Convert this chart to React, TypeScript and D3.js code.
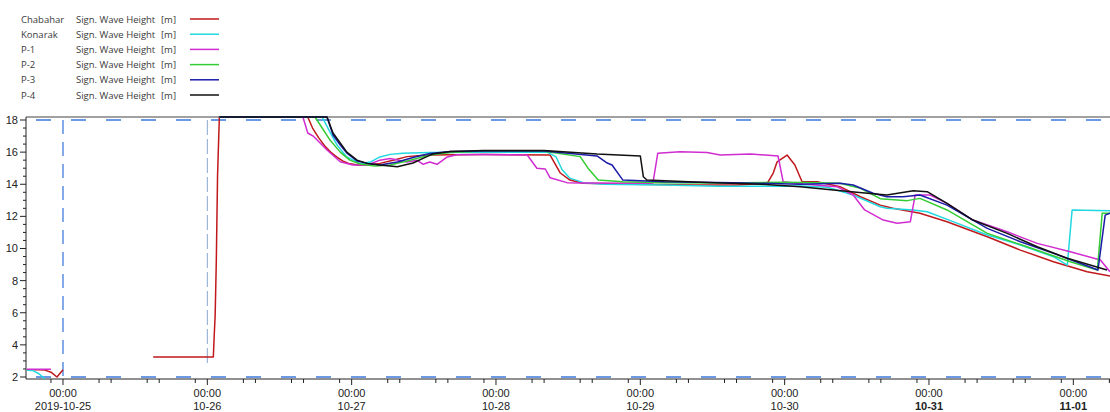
import React from 'react';
import * as d3 from 'd3';

type Pt = [number, number | null];

// hours from 2019-10-25 00:00
const dayLabels = ['2019-10-25', '10-26', '10-27', '10-28', '10-29', '10-30', '10-31', '11-01'];
const boldDays = ['10-31', '11-01'];
const minorHours = [6, 8, 14, 16, 22];
const yMajorTicks = [2, 4, 6, 8, 10, 12, 14, 16, 18];
const refLevels = [18, 2];
const refTimes: [number, number, number][] = [[0, 18, 2], [24, 18, 2.85]];

const seriesNames = ['Chabahar', 'Konarak', 'P-1', 'P-2', 'P-3', 'P-4'];
const seriesColors = ['#c0181c', '#22d8e0', '#d02cd0', '#33cc33', '#1c1ca8', '#111111'];

const chabahar: Pt[] = [
  [-6, 2.45], [-5, 2.45], [-4, 2.45], [-3, 2.43], [-2, 2.3], [-1, 2.0], [0, 2.45], [1, null],
  [15, 3.24], [20, 3.24], [25, 3.24], [25.15, 4.6], [25.3, 5.8], [25.5, 9.3], [25.7, 14.5], [26, 18.5],
  [40.7, 18.5], [41.5, 17.5], [42.5, 16.9], [43.5, 16.4], [44.5, 16.0], [45.5, 15.7], [46.5, 15.45],
  [47.5, 15.3], [49, 15.2], [50.6, 15.2], [52.7, 15.3], [54.9, 15.5], [57.2, 15.72], [60.5, 15.82],
  [70, 15.85], [81, 15.82], [82.7, 14.7], [84.3, 14.26], [86.5, 14.06], [95, 14.0], [105, 13.95],
  [112, 13.95], [117.1, 14.06], [118.1, 14.7], [118.75, 15.4], [120.4, 15.82], [121.7, 15.2],
  [122.9, 14.16], [125.4, 14.16], [129.2, 13.85], [132.6, 13.22], [135.9, 12.7], [138.0, 12.5],
  [142.5, 12.19], [147.0, 11.67], [153.7, 10.73], [159.2, 9.9], [164.7, 9.18], [170.3, 8.55], [174.1, 8.29],
];

const konarak: Pt[] = [
  [-6, 2.42], [-5, 2.4], [-4, 2.2], [-3, 1.85], [-2.5, null],
  [26, 18.5], [43.1, 18.5], [44.4, 17.25], [45.6, 16.42], [47.2, 15.7], [49.4, 15.28], [51.1, 15.38],
  [52.7, 15.7], [54.4, 15.86], [56.5, 15.93], [61, 15.98], [70, 16.0], [80.5, 16.0], [82, 15.7],
  [83, 14.9], [84.3, 14.38], [86.5, 14.1], [90, 14.0], [100, 13.95], [109, 13.87], [115, 13.87],
  [122.6, 13.89], [127.1, 13.81], [131.4, 13.33], [135.9, 12.6], [137.0, 12.5], [141.4, 12.4],
  [143.7, 12.29], [148.0, 11.67], [153.7, 10.84], [159.2, 10.22], [164.7, 9.49], [167.0, 8.97],
  [167.8, 12.4], [174.1, 12.35],
];

const p1: Pt[] = [
  [-6, 2.48], [-2, 2.48], [-1.5, null],
  [26, 18.5], [39.9, 18.5], [40.7, 17.19], [41.6, 17.0], [43.9, 16.13], [46.1, 15.4], [48.2, 15.2],
  [50.6, 15.2], [52.7, 15.5], [54.4, 15.6], [57.2, 15.38], [58.9, 15.49], [59.9, 15.24], [61.0, 15.38],
  [62.2, 15.24], [63.9, 15.7], [65.5, 15.84], [70, 15.85], [77.2, 15.82], [78.8, 15.0], [80.2, 14.95],
  [81, 14.4], [83.8, 14.1], [86, 14.08], [97.6, 14.06], [98.1, 14.08], [98.9, 15.93], [102.6, 16.03],
  [107.1, 15.97], [109.3, 15.82], [114.3, 15.88], [118.9, 15.76], [119.75, 14.16], [123.1, 14.01],
  [128.7, 13.85], [131.4, 13.33], [133.3, 12.4], [136.4, 11.77], [138.7, 11.57], [140.9, 11.67],
  [141.7, 13.33], [144.2, 13.33], [147.0, 12.81], [151.3, 11.77], [157.0, 11.04], [162.0, 10.32],
  [167.5, 9.8], [172.5, 9.28], [174.1, 8.55],
];

const p2: Pt[] = [
  [26, 18.5], [41.9, 18.5], [43.1, 17.5], [44.4, 16.75], [46.1, 16.0], [47.7, 15.5], [49.4, 15.26],
  [51.9, 15.13], [54.4, 15.2], [57.7, 15.5], [61, 15.82], [64.4, 15.98], [70, 16.07], [80, 16.05],
  [86, 15.72], [87.3, 15.0], [89, 14.26], [93.1, 14.16], [100, 14.1], [110, 14.08], [120, 14.12],
  [125.9, 14.1], [129.2, 14.06], [132.6, 13.75], [135.9, 13.1], [140.4, 12.98], [142.5, 13.12],
  [147.0, 12.4], [153.7, 10.94], [160.3, 10.11], [167.5, 9.18], [172.0, 8.66], [172.8, 12.19], [174.1, 12.2],
];

const p3: Pt[] = [
  [26, 18.5], [43.9, 18.5], [44.9, 17.07], [46.1, 16.44], [47.2, 15.94], [48.9, 15.45], [50.6, 15.3],
  [52.7, 15.2], [55.6, 15.38], [58.5, 15.7], [61, 15.91], [64.4, 16.04], [70, 16.07], [80, 16.07],
  [88.8, 15.76], [90.5, 15.32], [91.3, 15.2], [93.1, 14.26], [100, 14.16], [111.4, 14.1], [122.6, 14.0],
  [129.2, 14.06], [131.4, 13.95], [134.7, 13.44], [137.0, 13.22], [139.7, 13.22], [142.5, 13.33],
  [147.0, 12.7], [153.7, 11.25], [159.2, 10.42], [164.7, 9.7], [172.1, 8.66], [173.3, 12.08], [174.1, 12.19],
];

const p4: Pt[] = [
  [26, 18.5], [43.9, 18.5], [44.9, 17.19], [46.1, 16.57], [47.2, 16.0], [48.9, 15.5], [50.6, 15.3],
  [52.7, 15.2], [55.6, 15.09], [58.2, 15.32], [60.5, 15.72], [61.5, 15.88], [64.4, 16.04], [70, 16.1],
  [80, 16.1], [88.8, 15.88], [96.0, 15.76], [96.5, 14.47], [97.1, 14.26], [106, 14.13], [116, 14.0],
  [122.6, 13.85], [128.1, 13.64], [132, 13.5], [137.0, 13.33], [141.4, 13.6], [143.7, 13.54],
  [147.0, 12.81], [151.3, 11.77], [157.0, 10.94], [162.0, 10.11], [167.0, 9.39], [173.6, 8.66],
];

const seriesData = [chabahar, konarak, p1, p2, p3, p4];

const W = 1110;
const H = 412;
const left = 26, right = 1110, top = 117, bottom = 379;

export default function App() {
  const x = d3.scaleLinear().domain([-6.15, 174.1]).range([left, right]);
  const y = d3.scaleLinear().domain([1.875, 18.187]).range([bottom, top]).clamp(true);
  const line = d3.line<Pt>()
    .defined((d) => d[1] !== null)
    .x((d) => x(d[0]))
    .y((d) => y(d[1] as number));

  const yMinor = d3.range(2, 18.01, 0.5).filter((v) => !yMajorTicks.includes(v));
  const xMinor: number[] = [];
  for (let day = -1; day < dayLabels.length; day++) {
    minorHours.forEach((h) => {
      const t = day * 24 + h;
      if (x(t) >= left && x(t) <= right) xMinor.push(t);
    });
  }
  const axisFont = '"Liberation Sans", Arial, sans-serif';
  const legendFont = '"Open Sans", "DejaVu Sans", sans-serif';

  return (
    <svg width={W} height={H} style={{ position: 'absolute', left: 0, top: 0, display: 'block', background: '#fff' }}>
      <defs>
        <clipPath id="plotclip">
          <rect x={left} y={top - 2} width={right - left} height={bottom - top + 4} />
        </clipPath>
      </defs>

      {/* legend */}
      {seriesNames.map((n, i) => {
        const cy = 19 + i * 15.2;
        return (
          <g key={n} fontFamily={legendFont} fontSize={9.5} fill="#3a3a3a">
            <text x={21} y={cy + 3.5}>{n}</text>
            <text x={76} y={cy + 3.5}>Sign. Wave Height</text>
            <text x={161} y={cy + 3.5}>[m]</text>
            <line x1={190} x2={219} y1={cy} y2={cy} stroke={seriesColors[i]} strokeWidth={1.5} />
          </g>
        );
      })}

      {/* reference dashed lines */}
      {refLevels.map((v) => (
        <line key={'h' + v} x1={left} x2={right} y1={y(v)} y2={y(v)} stroke="#5b8ee0" strokeWidth={2} strokeDasharray="15,20" strokeDashoffset={-10} opacity={0.9} />
      ))}
      <line x1={x(refTimes[0][0])} x2={x(refTimes[0][0])} y1={y(refTimes[0][1])} y2={y(refTimes[0][2])} stroke="#5b8ee0" strokeWidth={1.5} strokeDasharray="14,8" />
      <line x1={x(refTimes[1][0])} x2={x(refTimes[1][0])} y1={y(refTimes[1][1])} y2={y(refTimes[1][2])} stroke="#8aa6cc" strokeWidth={1} strokeDasharray="15,4" />

      {/* frame */}
      <line x1={left} x2={right} y1={top} y2={top} stroke="#444" strokeWidth={1.2} />
      <line x1={left} x2={left} y1={top} y2={bottom} stroke="#222" strokeWidth={1} />
      <line x1={left} x2={right} y1={bottom} y2={bottom} stroke="#222" strokeWidth={1} />

      {/* series */}
      <g clipPath="url(#plotclip)" fill="none">
        {seriesData.map((d, i) => (
          <path key={seriesNames[i]} d={line(d) || ''} stroke={seriesColors[i]} strokeWidth={1.5} strokeLinejoin="round" />
        ))}
      </g>

      {/* y axis */}
      <g fontFamily={axisFont} fontSize={11} fill="#222">
        {yMajorTicks.map((v) => (
          <g key={'y' + v}>
            <line x1={left - 6} x2={left} y1={y(v)} y2={y(v)} stroke="#222" />
            <text x={18} y={y(v) + 4} textAnchor="end">{v}</text>
          </g>
        ))}
        {yMinor.map((v) => (
          <line key={'ym' + v} x1={left - 3} x2={left} y1={y(v)} y2={y(v)} stroke="#222" />
        ))}
      </g>

      {/* x axis */}
      <g fontFamily={axisFont} fontSize={11} fill="#222">
        {dayLabels.map((lab, i) => {
          const xx = x(i * 24);
          return (
            <g key={lab}>
              <line x1={xx} x2={xx} y1={bottom} y2={bottom + 6} stroke="#222" />
              <text x={xx} y={397} textAnchor="middle">00:00</text>
              <text x={xx} y={410} textAnchor="middle" fontWeight={boldDays.includes(lab) ? 700 : 400}>{lab}</text>
            </g>
          );
        })}
        {xMinor.map((t) => (
          <line key={'xm' + t} x1={x(t)} x2={x(t)} y1={bottom} y2={bottom + 4} stroke="#222" />
        ))}
      </g>
    </svg>
  );
}
